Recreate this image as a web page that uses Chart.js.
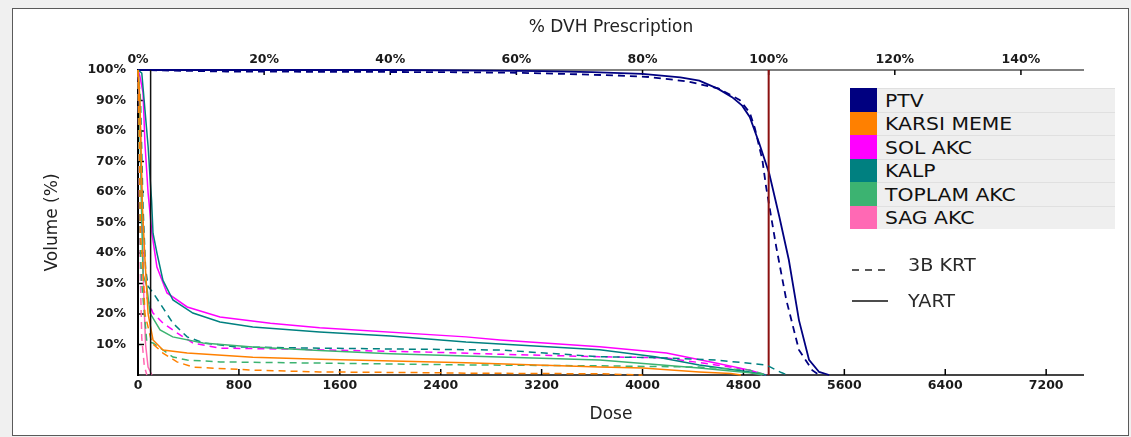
<!DOCTYPE html>
<html>
<head>
<meta charset="utf-8">
<script src="https://cdn.jsdelivr.net/npm/chart.js@4.4.1/dist/chart.umd.min.js"></script>
<style>
  html, body { margin: 0; padding: 0; }
  body { width: 1131px; height: 437px; background: #f0f0f0; overflow: hidden; position: relative; font-family: "DejaVu Sans", sans-serif; }
  #panel { position: absolute; left: 12px; top: 8px; width: 1115px; height: 426px; border: 1px solid #5a5a5a; background: #fff; }
  #chart { position: absolute; left: 0; top: 0; }
  #legend { position: absolute; left: 837px; top: 79px; width: 265px; }
  .row { display: flex; height: 23.5px; }
  .sw { width: 27px; height: 100%; }
  .lab { flex: 1; background: #efefef; border-top: 1px solid #e0e0e0; box-sizing: border-box; display: flex; align-items: center; padding-left: 8px; }
  .lab span, .key span { display: inline-block; transform: scaleX(1.13); transform-origin: left center; color: #111; font-size: 18px; white-space: nowrap; }
  .key { position: absolute; left: 839px; display: flex; align-items: center; }
  .key span { font-size: 17px; color: #2a2a2a; margin-left: 20px; }
</style>
</head>
<body>
<div id="panel">
  <canvas id="chart" width="1115" height="426"></canvas>
  <div id="legend"></div>
  <div class="key" style="top:246px;">
    <svg width="36" height="18"><line x1="0" y1="14" x2="36" y2="14" stroke="#222" stroke-width="1.5" stroke-dasharray="7,6"/></svg>
    <span>3B KRT</span>
  </div>
  <div class="key" style="top:282px;">
    <svg width="36" height="18"><line x1="0" y1="9" x2="36" y2="9" stroke="#111" stroke-width="1.6"/></svg>
    <span>YART</span>
  </div>
</div>
<script>
// axis ticks
const doseTicks = [0, 800, 1600, 2400, 3200, 4000, 4800, 5600, 6400, 7200];
const prescriptionTicks = [0, 20, 40, 60, 80, 100, 120, 140];
const volumeTicks = [10, 20, 30, 40, 50, 60, 70, 80, 90, 100];
const prescriptionDose = 5000;
const markerDose = 100;

// structures (legend order) and plans
const structures = ['PTV', 'KARSI MEME', 'SOL AKC', 'KALP', 'TOPLAM AKC', 'SAG AKC'];
const structureColors = ['#000080', '#ff8000', '#ff00ff', '#008080', '#3cb371', '#ff69b4'];
const plans = ['3B KRT', 'YART'];

// YART (solid)
const ptvYartDose = [0, 1000, 2000, 2800, 3200, 3600, 4000, 4300, 4450, 4600, 4710, 4790, 4850, 4925, 5005, 5085, 5160, 5240, 5320, 5400, 5480];
const ptvYartVol  = [100, 100, 100, 99.8, 99.6, 99.3, 98.7, 97.6, 96.5, 93.8, 91.1, 88.3, 84.6, 76, 66, 51.8, 37.7, 18, 5, 1, 0];
const karsiYartDose = [0, 15, 35, 55, 80, 119, 198, 390, 910, 1440, 2600, 3660, 4000, 4450, 4700, 4780];
const karsiYartVol  = [100, 90, 55, 38, 20, 11.5, 8.2, 7.2, 5.8, 5.2, 4, 2.6, 2.3, 1, 0.5, 0];
const solYartDose = [0, 15, 40, 55, 80, 110, 150, 230, 390, 650, 1050, 1440, 2600, 2870, 3660, 4190, 4580, 4850, 4980];
const solYartVol  = [100, 98, 92.5, 76, 59.7, 46.6, 35.4, 26.9, 22.3, 19, 17, 15.5, 12.5, 11.5, 9.3, 7.2, 3.9, 1.6, 0];
const kalpYartDose = [0, 30, 55, 80, 95, 108, 119, 150, 198, 277, 435, 650, 910, 1440, 2000, 2600, 2870, 3660, 4100, 4450, 4850, 4980];
const kalpYartVol  = [100, 99, 87, 75, 65, 57, 46.5, 40, 31, 24.6, 20.3, 17.4, 15.7, 14.1, 12.8, 10.8, 10.2, 8.3, 6, 3.3, 1, 0];
const toplamYartDose = [0, 10, 25, 40, 70, 95, 175, 275, 515, 910, 1440, 2000, 2600, 3660, 4450, 4850, 4950];
const toplamYartVol  = [100, 95, 60, 33, 29, 20.3, 14.8, 12.5, 10.5, 9.2, 8, 7, 6.2, 4.9, 2.3, 0.7, 0];
const sagYartDose = [0, 20, 35, 45, 60, 80, 110];
const sagYartVol  = [100, 80, 50, 27, 10, 2.6, 0];

// 3B KRT (dashed)
const ptvKrtDose = [0, 700, 1600, 2400, 3000, 3400, 3800, 4050, 4350, 4600, 4770, 4850, 4890, 4950, 4980, 5060, 5140, 5240, 5345, 5400];
const ptvKrtVol  = [100, 99.5, 99.4, 99.3, 99.1, 98.7, 98.2, 97.7, 96.3, 94, 90.2, 86, 81, 70.5, 61.6, 42, 24.6, 8.2, 1.6, 0];
const karsiKrtDose = [0, 10, 20, 35, 55, 110, 198, 309, 435, 910, 1440, 2200, 2600, 3660, 4000];
const karsiKrtVol  = [100, 80, 45, 38.7, 20, 10.5, 7.2, 4.3, 2.6, 1.6, 1, 0.8, 0.6, 0.4, 0];
const solKrtDose = [0, 15, 30, 45, 119, 198, 309, 435, 650, 1180, 2300, 2870, 3660, 4190, 4580, 4850, 4950];
const solKrtVol  = [100, 85, 50, 28, 20.3, 17, 13.8, 10.5, 8.8, 8.5, 7.5, 6.8, 6, 5.6, 3.3, 1.6, 0];
const kalpKrtDose = [0, 20, 40, 60, 80, 119, 198, 277, 390, 520, 780, 1440, 2100, 2870, 3660, 4190, 4580, 4980, 5100, 5150];
const kalpKrtVol  = [100, 90, 55, 35, 29, 27, 22, 17, 12.5, 10.5, 9.2, 8.8, 8.5, 8.2, 6, 5.6, 4.9, 3.3, 0.8, 0];
const toplamKrtDose = [0, 10, 20, 30, 70, 119, 198, 277, 390, 650, 1440, 2600, 3660, 4450, 4850, 4980];
const toplamKrtVol  = [100, 70, 40, 30, 10.8, 10.5, 8.2, 5.9, 4.9, 4.3, 3.9, 3.3, 3, 2.6, 1.6, 0];
const sagKrtDose = [0, 10, 20, 30, 50, 70];
const sagKrtVol  = [100, 60, 30, 12, 3, 0];

const pts = (d, v) => d.map((x, i) => ({ x: x, y: v[i] }));

// legend rows
const legend = document.getElementById('legend');
structures.forEach((name, i) => {
  const row = document.createElement('div');
  row.className = 'row';
  row.innerHTML = '<div class="sw" style="background:' + structureColors[i] + '"></div><div class="lab"><span>' + name + '</span></div>';
  legend.appendChild(row);
});

const curves = [
  [karsiYartDose, karsiYartVol, 1, 1], [karsiKrtDose, karsiKrtVol, 1, 0],
  [toplamYartDose, toplamYartVol, 4, 1], [toplamKrtDose, toplamKrtVol, 4, 0],
  [kalpYartDose, kalpYartVol, 3, 1], [kalpKrtDose, kalpKrtVol, 3, 0],
  [solYartDose, solYartVol, 2, 1], [solKrtDose, solKrtVol, 2, 0],
  [sagYartDose, sagYartVol, 5, 1], [sagKrtDose, sagKrtVol, 5, 0],
];

const datasets = [];
datasets.push({
  label: 'marker', data: [{ x: markerDose, y: 0 }, { x: markerDose, y: 100 }],
  borderColor: '#111', borderWidth: 1.5
});
curves.forEach(c => {
  datasets.push({
    label: structures[c[2]] + ' ' + plans[c[3]],
    data: pts(c[0], c[1]),
    borderColor: structureColors[c[2]],
    borderWidth: 1.5,
    borderDash: c[3] === 0 ? [7, 5] : []
  });
});
datasets.push({
  label: 'prescription', data: [{ x: prescriptionDose, y: 0 }, { x: prescriptionDose, y: 100 }],
  borderColor: '#8b1010', borderWidth: 2
});
datasets.push({ label: 'PTV 3B KRT', data: pts(ptvKrtDose, ptvKrtVol), borderColor: structureColors[0], borderWidth: 1.8, borderDash: [7, 5] });
datasets.push({ label: 'PTV YART', data: pts(ptvYartDose, ptvYartVol), borderColor: structureColors[0], borderWidth: 1.8 });
datasets.forEach(d => { d.showLine = true; d.pointRadius = 0; d.fill = false; d.tension = 0; d.clip = 4; });

// axis frame + inward tick marks
const frame = {
  id: 'frame',
  beforeDatasetsDraw(chart) {
    const { ctx, chartArea: a, scales } = chart;
    const seg = (x1, y1, x2, y2) => { ctx.beginPath(); ctx.moveTo(x1, y1); ctx.lineTo(x2, y2); ctx.stroke(); };
    ctx.save();
    ctx.strokeStyle = '#555'; ctx.lineWidth = 1.5;
    seg(a.left, a.top, a.right, a.top);
    ctx.strokeStyle = '#444'; ctx.lineWidth = 2;
    seg(a.left, a.bottom, a.right, a.bottom);
    ctx.strokeStyle = '#000';
    seg(a.left, a.top - 1, a.left, a.bottom + 1);
    ctx.lineWidth = 1.5;
    doseTicks.forEach(v => { const p = scales.x.getPixelForValue(v); seg(p, a.bottom, p, a.bottom - 6); });
    prescriptionTicks.forEach(v => { const p = scales.x2.getPixelForValue(v); seg(p, a.top, p, a.top + 5); });
    volumeTicks.forEach(v => { const p = scales.y.getPixelForValue(v); seg(a.left, p, a.left + 6, p); });
    ctx.restore();
  }
};

const tickFont = { family: 'DejaVu Sans', weight: 'bold', size: 12.5 };
const titleFont = { family: 'DejaVu Sans', size: 17 };

new Chart(document.getElementById('chart'), {
  type: 'scatter',
  data: { datasets: datasets },
  plugins: [frame],
  options: {
    responsive: false,
    animation: false,
    layout: { padding: { left: 25, right: 44, top: 4, bottom: 6 } },
    plugins: { legend: { display: false }, tooltip: { enabled: false } },
    scales: {
      x: {
        type: 'linear', position: 'bottom', min: 0, max: 7500,
        afterBuildTicks: s => { s.ticks = doseTicks.map(v => ({ value: v })); },
        afterFit: s => { s.height = 54; },
        grid: { display: false, drawTicks: false },
        border: { display: false },
        ticks: { font: tickFont, color: '#1a1a1a', padding: 3, maxRotation: 0, autoSkip: false, callback: v => String(v) },
        title: { display: true, text: 'Dose', font: titleFont, color: '#222' }
      },
      x2: {
        type: 'linear', position: 'top', min: 0, max: 150,
        afterBuildTicks: s => { s.ticks = prescriptionTicks.map(v => ({ value: v })); },
        afterFit: s => { s.height = 57; },
        grid: { display: false, drawTicks: false },
        border: { display: false },
        ticks: { font: tickFont, color: '#1a1a1a', padding: 3, maxRotation: 0, autoSkip: false, callback: v => v + '%' },
        title: { display: true, text: '% DVH Prescription', font: titleFont, color: '#222' }
      },
      y: {
        type: 'linear', position: 'left', min: 0, max: 100,
        afterBuildTicks: s => { s.ticks = volumeTicks.map(v => ({ value: v })); },
        afterFit: s => { s.width = 100; },
        grid: { display: false, drawTicks: false },
        border: { display: false },
        ticks: { font: tickFont, color: '#1a1a1a', padding: 12, autoSkip: false, callback: v => v + '%' },
        title: { display: true, text: 'Volume (%)', font: titleFont, color: '#222' }
      }
    }
  }
});
</script>
</body>
</html>
